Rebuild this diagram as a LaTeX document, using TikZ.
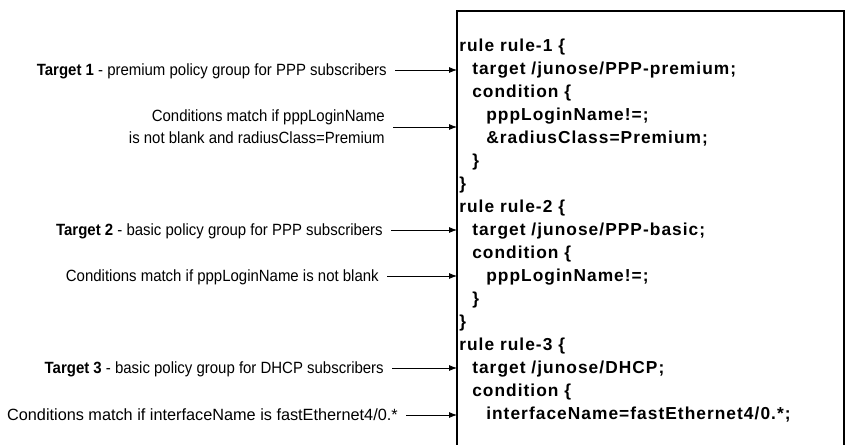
\documentclass[tikz,border=0pt]{standalone}
\usepackage{fontspec}
\setmainfont{Liberation Sans}[FakeStretch=0.92]
\newfontfamily\widefont{Liberation Sans}
\newfontfamily\codefont{Liberation Sans}[LetterSpace=6]
\usetikzlibrary{arrows.meta,positioning}

\begin{document}
\begin{tikzpicture}[x=0.75pt,y=-0.75pt]
\tikzstyle{lbl}=[anchor=east,inner xsep=6pt,inner ysep=0pt,
text height=8.7pt,text depth=0pt,
font=\fontsize{12.2}{16.5}\selectfont]
\tikzstyle{lbltwo}=[anchor=east,inner xsep=6pt,inner ysep=0pt,align=right,
font=\fontsize{12.2}{16.5}\selectfont]
\tikzstyle{code}=[anchor=base west,inner sep=0pt,
font=\codefont\bfseries\fontsize{13}{15}\selectfont]
\tikzstyle{ptr}=[-{Latex[length=6pt,width=4.5pt]},line width=0.6pt]

\useasboundingbox (0,0) rectangle (854,444);
\clip (0,0) rectangle (854,444);

\coordinate (frametl) at (457,11);
\coordinate (frametr) at (844,11);
\draw[line width=0.8pt] (457,460) -- (frametl) -- (frametr) -- (844,460);

\node[code] at (459,51)  (r1)  {rule rule-1 \{};
\node[code] at (472,74)  (t1)  {target /junose/PPP-premium;};
\node[code] at (472,97)  (c1)  {condition \{};
\node[code] at (486,120) (p1)  {pppLoginName!=;};
\node[code] at (486,143) (a1)  {\&radiusClass=Premium;};
\node[code] at (472,166) (cb1) {\}};
\node[code] at (459,189) (rb1) {\}};
\node[code] at (459,212) (r2)  {rule rule-2 \{};
\node[code] at (472,235) (t2)  {target /junose/PPP-basic;};
\node[code] at (472,258) (c2)  {condition \{};
\node[code] at (486,281) (p2)  {pppLoginName!=;};
\node[code] at (472,304) (cb2) {\}};
\node[code] at (459,327) (rb2) {\}};
\node[code] at (459,350) (r3)  {rule rule-3 \{};
\node[code] at (472,373) (t3)  {target /junose/DHCP;};
\node[code] at (472,396) (c3)  {condition \{};
\node[code] at (486,419) (i3)  {interfaceName=fastEthernet4/0.*;};

\node[lbl] at (395,70) (tgt1) {\textbf{Target 1} - premium policy group for PPP subscribers};
\node[lbltwo] at (393,127) (cnd1) {Conditions match if pppLoginName\\is not blank and radiusClass=Premium};
\node[lbl] at (391,230) (tgt2) {\textbf{Target 2} - basic policy group for PPP subscribers};
\node[lbl] at (387,276) (cnd2) {Conditions match if pppLoginName is not blank};
\node[lbl] at (392,368) (tgt3) {\textbf{Target 3} - basic policy group for DHCP subscribers};
\node[lbl,font=\widefont\fontsize{12.2}{16.5}\selectfont] at (406,415) (cnd3) {Conditions match if interfaceName is fastEthernet4/0.*};

\draw[ptr] (tgt1.east) -- (tgt1.east -| frametl);
\draw[ptr] (cnd1.east) -- (cnd1.east -| frametl);
\draw[ptr] (tgt2.east) -- (tgt2.east -| frametl);
\draw[ptr] (cnd2.east) -- (cnd2.east -| frametl);
\draw[ptr] (tgt3.east) -- (tgt3.east -| frametl);
\draw[ptr] (cnd3.east) -- (cnd3.east -| frametl);

\end{tikzpicture}
\end{document}
